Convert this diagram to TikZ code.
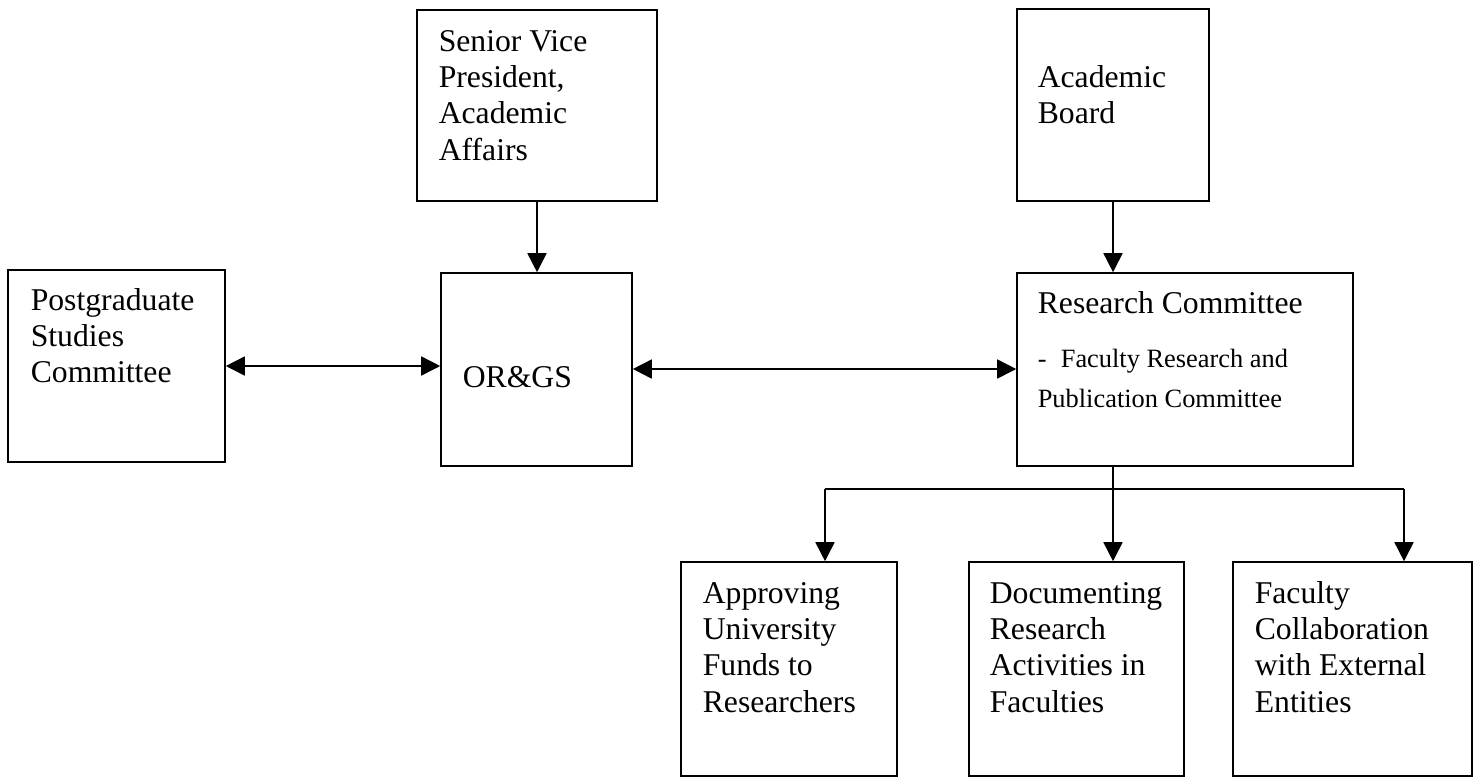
\documentclass[tikz,border=0pt]{standalone}
\usepackage{fontspec}
\setmainfont{Liberation Serif}
\usetikzlibrary{arrows.meta,fit}
\newcommand{\boxlines}[1]{\parbox[t]{7cm}{\raggedright #1}}

\begin{document}
\begin{tikzpicture}[x=.3788pt,y=-.3788pt,line width=.6pt,
  >={Triangle[length=7.2pt,width=7.2pt]},
  box/.style={draw,inner sep=0pt},
  txt/.style={anchor=base west,inner sep=0pt,font=\fontsize{12}{13.8}\selectfont},
  small/.style={txt,font=\fontsize{10}{15.2}\selectfont}]
\useasboundingbox (0,0) rectangle (1482,777);
% boxes
\node[box,fit={(417,10)(657,201)}] (svp) {};
\node[box,fit={(1017,9)(1209,201)}] (board) {};
\node[box,fit={(8,270)(225,462)}] (pgsc) {};
\node[box,fit={(441,273)(632,466)}] (orgs) {};
\node[box,fit={(1017,273)(1353,466)}] (rescom) {};
\node[box,fit={(681,562)(897,776)}] (funds) {};
\node[box,fit={(969,562)(1184,776)}] (docu) {};
\node[box,fit={(1233,562)(1472,776)}] (collab) {};
% texts
\node[txt] (svptxt) at (438,51) {\boxlines{Senior Vice\\President,\\Academic\\Affairs}};
\node[txt] (boardtxt) at (1037,87) {\boxlines{Academic\\Board}};
\node[txt] (pgsctxt) at (30,310) {\boxlines{Postgraduate\\Studies\\Committee}};
\node[txt] (orgstxt) at (462,387) {OR\&GS};
\node[txt] (rescomtxt) at (1037,313) {Research Committee};
\node[small] (fracomtxt) at (1037,367) {\boxlines{-\hspace{5.4pt}Faculty Research and\\Publication Committee}};
\node[txt] (fundstxt) at (702,603) {\boxlines{Approving\\University\\Funds to\\Researchers}};
\node[txt] (docutxt) at (989,603) {\boxlines{Documenting\\Research\\Activities in\\Faculties}};
\node[txt] (collabtxt) at (1254,603) {\boxlines{Faculty\\Collaboration\\with External\\Entities}};
% connectors
\coordinate (split) at (1113,489);
\coordinate (brleft) at (825,489);
\coordinate (brright) at (1404,489);
\coordinate (midrow) at (0,369);
\draw[->] (svp.south) -- (svp.south |- orgs.north);
\draw[->] (board.south) -- (board.south |- rescom.north);
\draw[<->] (pgsc.east) -- (pgsc.east -| orgs.west);
\draw[<->] (midrow -| orgs.east) -- (midrow -| rescom.west);
\draw (split |- rescom.south) -- (split);
\draw (brleft) -- (brright);
\draw[->] (brleft) -- (brleft |- funds.north);
\draw[->] (split) -- (split |- docu.north);
\draw[->] (brright) -- (brright |- collab.north);
\end{tikzpicture}
\end{document}
